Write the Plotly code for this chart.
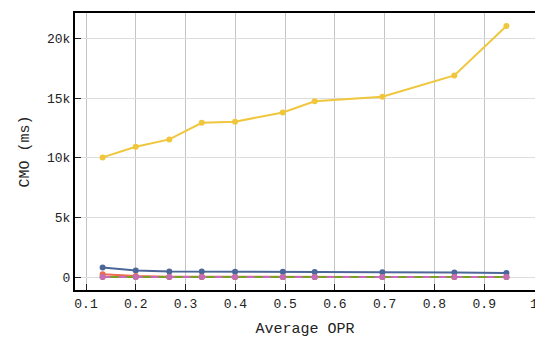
import plotly.graph_objects as go

# Average OPR (x) shared by every series
avg_opr = [0.1334, 0.2, 0.2674, 0.3326, 0.3994, 0.4954, 0.5594, 0.6954, 0.84, 0.9446]

# CMO in milliseconds per series
cmo_blue = [800, 560, 480, 460, 450, 440, 430, 400, 380, 340]
cmo_red = [240, 90, 30, 20, 15, 10, 10, 10, 5, 5]
cmo_green = [10, 8, 5, 5, 5, 5, 5, 5, 5, 5]
cmo_pink = [5, 5, 5, 5, 5, 5, 5, 5, 5, 5]
cmo_yellow = [10030, 10920, 11540, 12930, 13020, 13800, 14730, 15110, 16900, 21040]

y_tickvals = [0, 5000, 10000, 15000, 20000]
y_ticktext = ["0", "5k", "10k", "15k", "20k"]
x_tickvals = [0.1, 0.2, 0.3, 0.4, 0.5, 0.6, 0.7, 0.8, 0.9, 1.0]
x_ticktext = ["0.1", "0.2", "0.3", "0.4", "0.5", "0.6", "0.7", "0.8", "0.9", "1"]

FONT = "Liberation Mono, DejaVu Sans Mono, monospace"

fig = go.Figure()

def add_series(y, color, dash="solid"):
    fig.add_trace(go.Scatter(
        x=avg_opr, y=y, mode="lines+markers",
        line=dict(color=color, width=2, dash=dash),
        marker=dict(color=color, size=6),
        showlegend=False, cliponaxis=False,
    ))

add_series(cmo_blue, "#4b6699")
add_series(cmo_red, "#ee6a50")
add_series(cmo_green, "#78a21e")
add_series(cmo_pink, "#c76bb6", dash="8px,8px")
add_series(cmo_yellow, "#f0c63c")

fig.update_layout(
    width=535, height=340,
    margin=dict(l=75, r=0, t=13, b=50, autoexpand=False),
    plot_bgcolor="white", paper_bgcolor="white",
    font=dict(family=FONT, size=13, color="#222"),
    xaxis=dict(
        range=[0.0779, 1.002],
        tickvals=x_tickvals, ticktext=x_ticktext,
        showgrid=True, gridcolor="#c4c4c4", gridwidth=1,
        zeroline=False, automargin=False, ticklabeloverflow="allow",
        showline=True, linecolor="black", linewidth=2, mirror=True,
        ticks="inside", ticklen=6, tickwidth=1, tickcolor="#222",
        title=dict(text="Average OPR", font=dict(size=15), standoff=12),
    ),
    yaxis=dict(
        range=[-1080, 22130],
        tickvals=y_tickvals, ticktext=y_ticktext,
        showgrid=True, gridcolor="#dddddd", gridwidth=1,
        zeroline=False, automargin=False,
        showline=True, linecolor="black", linewidth=2,
        ticks="inside", ticklen=6, tickwidth=1, tickcolor="#222",
        title=dict(text="CMO (ms)", font=dict(size=15), standoff=14),
    ),
)

fig.write_html(
    "out.html",
    post_script="document.documentElement.style.overflow='hidden';"
                "document.body.style.overflow='hidden';document.body.style.margin='0';",
)
